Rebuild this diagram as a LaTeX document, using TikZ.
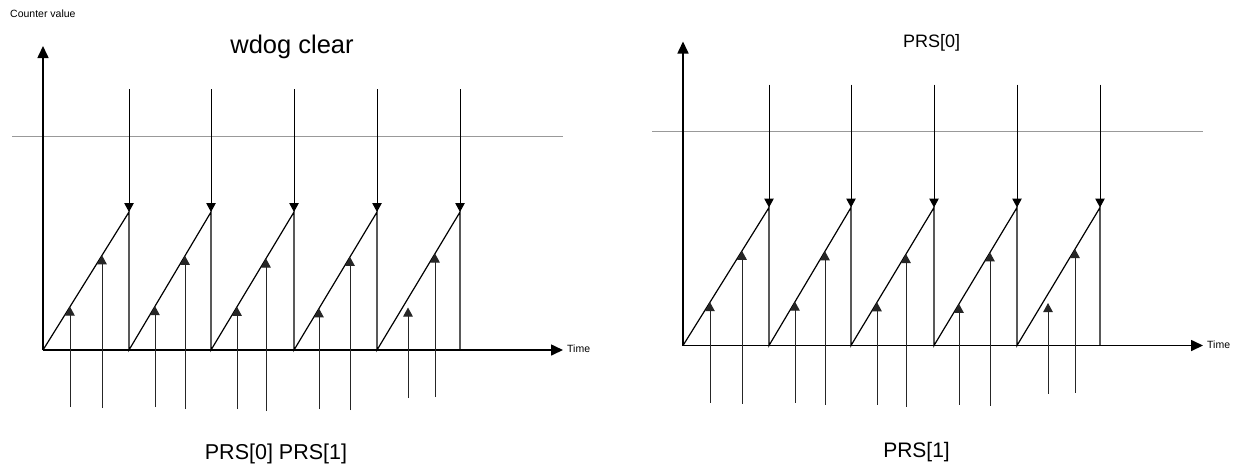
\documentclass[tikz,border=0pt]{standalone}
\usepackage{fontspec}
\setmainfont{Liberation Sans}
\usetikzlibrary{arrows.meta}
\tikzset{
  axisline/.style={line width=1.6pt, -{Triangle[length=12pt,width=11pt]}},
  threshline/.style={line width=1pt, draw=black!40},
  sawline/.style={line width=1.2pt, line join=miter},
  clrarrow/.style={line width=1pt, -{Triangle[length=9pt,width=9.5pt]}},
  prsarrow/.style={line width=1pt, draw=black!85, -{Triangle[length=9pt,width=9.5pt]}},
  smalllbl/.style={inner sep=0pt, font=\fontsize{10.5}{12}\selectfont},
}
\newcommand{\wdchart}{%
  \coordinate (O) at (43,350);
  \coordinate (ytop) at (43,46);
  \coordinate (xend) at (563,350);
  \coordinate (g1) at (12,136);
  \coordinate (g2) at (563,136);
  \draw[threshline] (g1) -- (g2);
  \draw[axisline] (O) -- (ytop);
  \draw[axisline] (O) -- (xend);
  \node[smalllbl, anchor=west] (time) at (567,349) {Time};
  \foreach \i/\x in {1/129,2/211,3/294,4/377,5/460} {
    \coordinate (t\i) at (\x,89);
    \coordinate (p\i) at (\x,212);
    \coordinate (b\i) at (\x,350);
    \draw[clrarrow] (t\i) -- (p\i);
  }
  \draw[sawline] (O) -- (p1) -- (b1) -- (p2) -- (b2) -- (p3) -- (b3) -- (p4) -- (b4) -- (p5) -- (b5);
  \foreach \j/\x/\yb/\yt in {1/70/407/306.7, 2/102/408/255.3, 3/155/407/306.2, 4/185/409/255.8,
      5/237/409/306.8, 6/266/411/258.5, 7/319/409/308.4, 8/350/410/256.9, 9/408/398/307.5, 10/435/397/253.5} {
    \coordinate (u\j) at (\x,\yb);
    \coordinate (v\j) at (\x,\yt);
    \draw[prsarrow] (u\j) -- (v\j);
  }
}
\begin{document}
\begin{tikzpicture}[x=1pt, y=-1pt]
\useasboundingbox (0,0) rectangle (1233,467);
\fill[white] (0,0) rectangle (1233,467);
\begin{scope}[name prefix=L-]
  \wdchart
  \node[smalllbl, anchor=base west] (cv) at (10,17.3) {Counter value};
  \node[inner sep=0pt, anchor=base, font=\fontsize{25.5}{28}\selectfont] (wd) at (292,53) {wdog clear};
  \node[inner sep=0pt, anchor=base, font=\fontsize{21.5}{24}\selectfont] (prs) at (276,459) {PRS[0] PRS[1]};
\end{scope}
\begin{scope}[name prefix=R-, shift={(640,-4.5)}]
  \wdchart
\end{scope}
\node[inner sep=0pt, anchor=base, font=\fontsize{18}{20}\selectfont] (prs0) at (931.5,47.3) {PRS[0]};
\node[inner sep=0pt, anchor=base, font=\fontsize{21}{24}\selectfont] (prs1) at (916.5,457) {PRS[1]};
\end{tikzpicture}
\end{document}
